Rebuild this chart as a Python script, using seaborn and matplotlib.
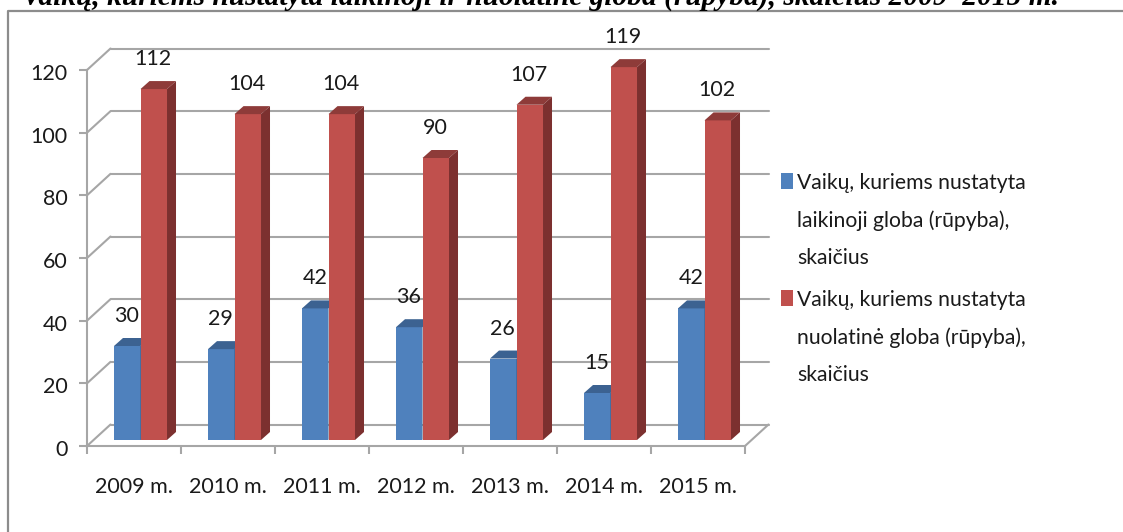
import matplotlib
matplotlib.use("Agg")
import matplotlib.pyplot as plt
import pandas as pd
import seaborn as sns
from matplotlib.lines import Line2D
from matplotlib.patches import Polygon
from matplotlib.transforms import IdentityTransform, ScaledTranslation

years = ["2009 m.", "2010 m.", "2011 m.", "2012 m.", "2013 m.", "2014 m.", "2015 m."]
laikinoji = [30, 29, 42, 36, 26, 15, 42]
nuolatine = [112, 104, 104, 90, 107, 119, 102]
label_laikinoji = "Vaikų, kuriems nustatyta\nlaikinoji globa (rūpyba),\nskaičius"
label_nuolatine = "Vaikų, kuriems nustatyta\nnuolatinė globa (rūpyba),\nskaičius"
title = "Vaikų, kuriems nustatyta laikinoji ir nuolatinė globa (rūpyba), skaičius 2009–2015 m."

sns.set_theme(style="white")
plt.rcParams["font.family"] = ["Lato", "Open Sans", "DejaVu Sans"]

W, H = 1123, 532
GREY = "#a6a6a6"
INK = "#1a1a1a"
FS = 15.5
fig = plt.figure(figsize=(W / 100, H / 100), dpi=100, facecolor="white")
ax = fig.add_axes([87 / W, (H - 446) / H, 658 / W, 376 / H])

df = pd.DataFrame({
    "rok": years * 2,
    "kiekis": laikinoji + nuolatine,
    "serija": [label_laikinoji] * 7 + [label_nuolatine] * 7,
})
sns.barplot(data=df, x="rok", y="kiekis", hue="serija", ax=ax, width=0.564, gap=0,
            palette=["#4f81bd", "#c0504d"], saturation=1, linewidth=0, zorder=3)
ax.set_xlim(-0.5, 6.5)
ax.set_ylim(0, 120)
ax.set_xlabel("")
ax.set_ylabel("")
ax.set_zorder(2)
ax.patch.set_visible(False)

# 3D look: bars moved a bit back, top and side faces added
shift = ScaledTranslation(6.5 / 100, 6 / 100, fig.dpi_scale_trans)
dx, dy = 9, 8
for k, cont in enumerate(ax.containers):
    top_c, side_c = ("#3c6291", "#385d8a") if k == 0 else ("#8e3b39", "#7c302f")
    for bar in cont:
        x0, w, h = bar.get_x(), bar.get_width(), bar.get_height()
        bar.set_transform(ax.transData + shift)
        bar.set_clip_on(False)
        bar.set_zorder(3 + k)
        (xa, ya), (xb, yb) = (ax.transData + shift).transform([(x0, 0), (x0 + w, h)])
        top = [(xa, yb), (xb, yb), (xb + dx, yb + dy), (xa + dx, yb + dy)]
        side = [(xb, ya), (xb + dx, ya + dy), (xb + dx, yb + dy), (xb, yb)]
        for pts, col in ((top, top_c), (side, side_c)):
            ax.add_patch(Polygon(pts, closed=True, fc=col, ec="none", clip_on=False,
                                 transform=IdentityTransform(), zorder=3 + k))

# back wall gridlines and the slanted floor lines
back = ax.transData + ScaledTranslation(23.5 / 100, 21.5 / 100, fig.dpi_scale_trans)
yticks = list(range(0, 121, 20))
for v in yticks:
    ax.plot([-0.5, 6.5], [v, v], color=GREY, lw=1.5, transform=back, clip_on=False, zorder=1)
    a = ax.transData.transform((-0.5, v))
    fig.add_artist(Line2D([a[0], a[0] + 23.5], [a[1], a[1] + 21.5], color=GREY, lw=1.5,
                          transform=IdentityTransform(), zorder=1))
a = ax.transData.transform((6.5, 0))
fig.add_artist(Line2D([a[0], a[0] + 23.5], [a[1], a[1] + 21.5], color=GREY, lw=1.5,
                      transform=IdentityTransform(), zorder=1))

sns.despine(ax=ax)
for s in ("left", "bottom"):
    ax.spines[s].set_color(GREY)
    ax.spines[s].set_linewidth(1.5)
ax.set_yticks(yticks)
ax.tick_params(axis="y", length=6, width=1.5, color=GREY, labelsize=FS, labelcolor=INK, pad=8, left=True)
ax.set_xticks(range(7), years)
ax.set_xticks([i - 0.5 for i in range(8)], minor=True)
ax.tick_params(axis="x", which="major", length=0, labelsize=FS, labelcolor=INK, pad=22)
ax.tick_params(axis="x", which="minor", length=6, width=1.5, color=GREY, bottom=True)
down = ScaledTranslation(0, -2 / 100, fig.dpi_scale_trans)
for t in ax.get_yticklabels():
    t.set_transform(t.get_transform() + down)

# value labels
for k, values in enumerate((laikinoji, nuolatine)):
    for i, v in enumerate(values):
        bar = ax.containers[k][i]
        ax.annotate(str(v), (bar.get_x() + bar.get_width() / 2, v), textcoords="offset pixels",
                    xytext=(6, 36), ha="center", va="center", fontsize=FS,
                    color=INK, annotation_clip=False, zorder=6)

# legend, marker next to the first line of each entry
handles, labels = ax.get_legend_handles_labels()
leg = ax.legend(handles, labels, loc="upper left", bbox_to_anchor=(781 / W, (H - 173) / H),
                bbox_transform=fig.transFigure, frameon=False, fontsize=15.2, handlelength=0.57,
                handleheight=0.76, handletextpad=0.2, labelspacing=1.05, borderpad=0, borderaxespad=0)
for t in leg.get_texts():
    t.set_linespacing(2.05)
    t.set_color(INK)
for row in leg._legend_handle_box.get_children()[0].get_children():
    row.align = "top"

# page frame and the clipped caption above the chart
frame = "#8c8c8c"
fig.add_artist(Line2D([8 / W, 8 / W, 1], [0, (H - 11) / H, (H - 11) / H], color=frame, lw=1.6))
fig.text(22 / W, (H - 5) / H, title, family="Liberation Serif", style="italic", weight="bold",
         fontsize=21.15, color="black", ha="left", va="baseline")

fig.savefig("out.png", dpi=100, facecolor="white")
